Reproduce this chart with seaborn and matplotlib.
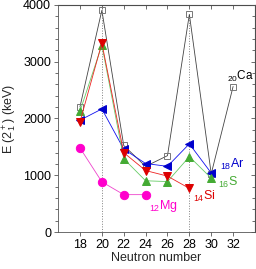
import numpy as np
import pandas as pd
import matplotlib
matplotlib.use('Agg')
import matplotlib.pyplot as plt
import seaborn as sns
from matplotlib.ticker import MultipleLocator

# Dados
N_ca = [18, 20, 22, 24, 26, 28, 30, 32]
E_ca = [2206, 3904, 1525, 1157, 1346, 3832, 1027, 2563]
N_ar = [18, 20, 22, 24, 26, 28, 30]
E_ar = [1970, 2168, 1461, 1208, 1158, 1554, 1040]
N_s = [18, 20, 22, 24, 26, 28, 30]
E_s = [2128, 3291, 1292, 904, 890, 1329, 950]
N_si = [18, 20, 22, 24, 26, 28]
E_si = [1941, 3327, 1399, 1084, 986, 770]
N_mg = [18, 20, 22, 24]
E_mg = [1482, 885, 660, 660]

sns.set_style('ticks')
plt.rcParams['font.family'] = ['Liberation Sans', 'DejaVu Sans']
plt.rcParams['mathtext.fontset'] = 'custom'
plt.rcParams['mathtext.rm'] = 'Liberation Sans'
plt.rcParams['mathtext.it'] = 'Liberation Sans'

fig = plt.figure(figsize=(2.56, 2.69), dpi=100)
ax = fig.add_axes([0.227, 0.137, 0.769, 0.845])

# linhas verticais pontilhadas nos numeros magicos
ax.vlines([20, 28], 0, [3904, 3832], colors='gray', linestyles=':', linewidth=0.7)

series = [
    (N_ca, E_ca, '#444444', 's', 'none', '#777777', 5),
    (N_ar, E_ar, '#1010ee', '<', '#0000cc', '#0000cc', 6),
    (N_s, E_s, '#66cc66', '^', '#44aa33', '#44aa33', 6),
    (N_si, E_si, '#ee2222', 'v', '#dd0000', '#dd0000', 6),
    (N_mg, E_mg, '#ee44cc', 'o', '#ff00cc', '#ff00cc', 6),
]
for n, e, lc, m, fc, ec, ms in series:
    sns.lineplot(x=n, y=e, ax=ax, color=lc, linewidth=0.6, marker=m,
                 markersize=ms, markerfacecolor=fc, markeredgecolor=ec,
                 markeredgewidth=0.7)

ax.set_xlim(16, 34)
ax.set_ylim(0, 4000)
ax.set_xticks([18, 20, 22, 24, 26, 28, 30, 32])
ax.yaxis.set_major_locator(MultipleLocator(1000))
ax.yaxis.set_minor_locator(MultipleLocator(200))
ax.tick_params(which='both', direction='out', labelsize=9, width=0.6, colors='#555555',
               labelcolor='black', pad=2)
ax.tick_params(which='major', length=3)
ax.tick_params(which='minor', length=2)
for s in ax.spines.values():
    s.set_visible(True)
    s.set_linewidth(0.6)
    s.set_color('#555555')

top = ax.secondary_xaxis('top')
top.set_xticks([18, 20, 22, 24, 26, 28, 30, 32])
top.tick_params(direction='in', length=3, labeltop=False, width=0.6, colors='#555555')
right = ax.secondary_yaxis('right')
right.yaxis.set_major_locator(MultipleLocator(1000))
right.yaxis.set_minor_locator(MultipleLocator(200))
right.tick_params(which='both', direction='in', labelright=False, width=0.6, colors='#555555')
right.tick_params(which='major', length=3)
right.tick_params(which='minor', length=2)

ax.set_xlabel('Neutron number', fontsize=9, labelpad=1)
ax.set_ylabel('E (2$^+_1$) (keV)', fontsize=9)
ax.yaxis.set_label_coords(-0.20, 0.5)

ax.text(33.9, 2680, '$_{20}$Ca', fontsize=8.5, color='black', ha='right')
ax.text(30.8, 1130, '$_{18}$Ar', fontsize=9, color='#0000cc')
ax.text(30.6, 820, '$_{16}$S', fontsize=9, color='#44aa33')
ax.text(28.3, 570, '$_{14}$Si', fontsize=9, color='#dd0000')
ax.text(24.3, 410, '$_{12}$Mg', fontsize=9, color='#ff00cc')

fig.savefig('out.png', dpi=100)
